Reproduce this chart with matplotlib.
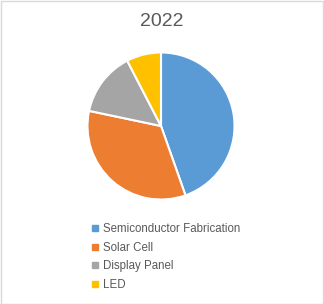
import matplotlib
matplotlib.use("Agg")
import matplotlib.pyplot as plt
from matplotlib.patches import Rectangle
from matplotlib.lines import Line2D

title = "2022"
categories = ["Semiconductor Fabrication", "Solar Cell", "Display Panel", "LED"]
values = [44.6, 33.7, 14.1, 7.6]
colors = ["#5B9BD5", "#ED7D31", "#A5A5A5", "#FFC000"]

W, H = 324, 304
fig = plt.figure(figsize=(W / 100, H / 100), dpi=100)
fig.patch.set_facecolor("white")

# light border
fig.add_artist(Rectangle((0.5 / W, 0.5 / H), 1 - 1.5 / W, 1 - 1.5 / H, transform=fig.transFigure,
                         fill=False, edgecolor="#D9D9D9", linewidth=1))

cx, cy, r = 161, 126, 75
ax = fig.add_axes([(cx - r) / W, (H - cy - r) / H, 2 * r / W, 2 * r / H])
ax.pie(values, colors=colors, startangle=90, counterclock=False,
       wedgeprops=dict(edgecolor="white", linewidth=1.5))
ax.set_xlim(-1.02, 1.02)
ax.set_ylim(-1.02, 1.02)
ax.set_aspect("equal")
ax.axis("off")

fig.text(162 / W, 1 - 22 / H, title, ha="center", va="center", fontsize=14,
         color="#595959", family="Liberation Sans")

handles = [Line2D([], [], marker="s", linestyle="none", markersize=5,
                  markerfacecolor=c, markeredgecolor=c) for c in colors]
leg = fig.legend(handles, categories, loc="upper left", bbox_to_anchor=(90 / W, 1 - 223 / H),
                 frameon=False, prop=dict(family="Liberation Sans", size=8.3),
                 handlelength=0.8, handletextpad=0.3,
                 labelspacing=0.58, borderaxespad=0, borderpad=0)
for t in leg.get_texts():
    t.set_color("#595959")

fig.savefig("out.png", dpi=100, facecolor="white")
